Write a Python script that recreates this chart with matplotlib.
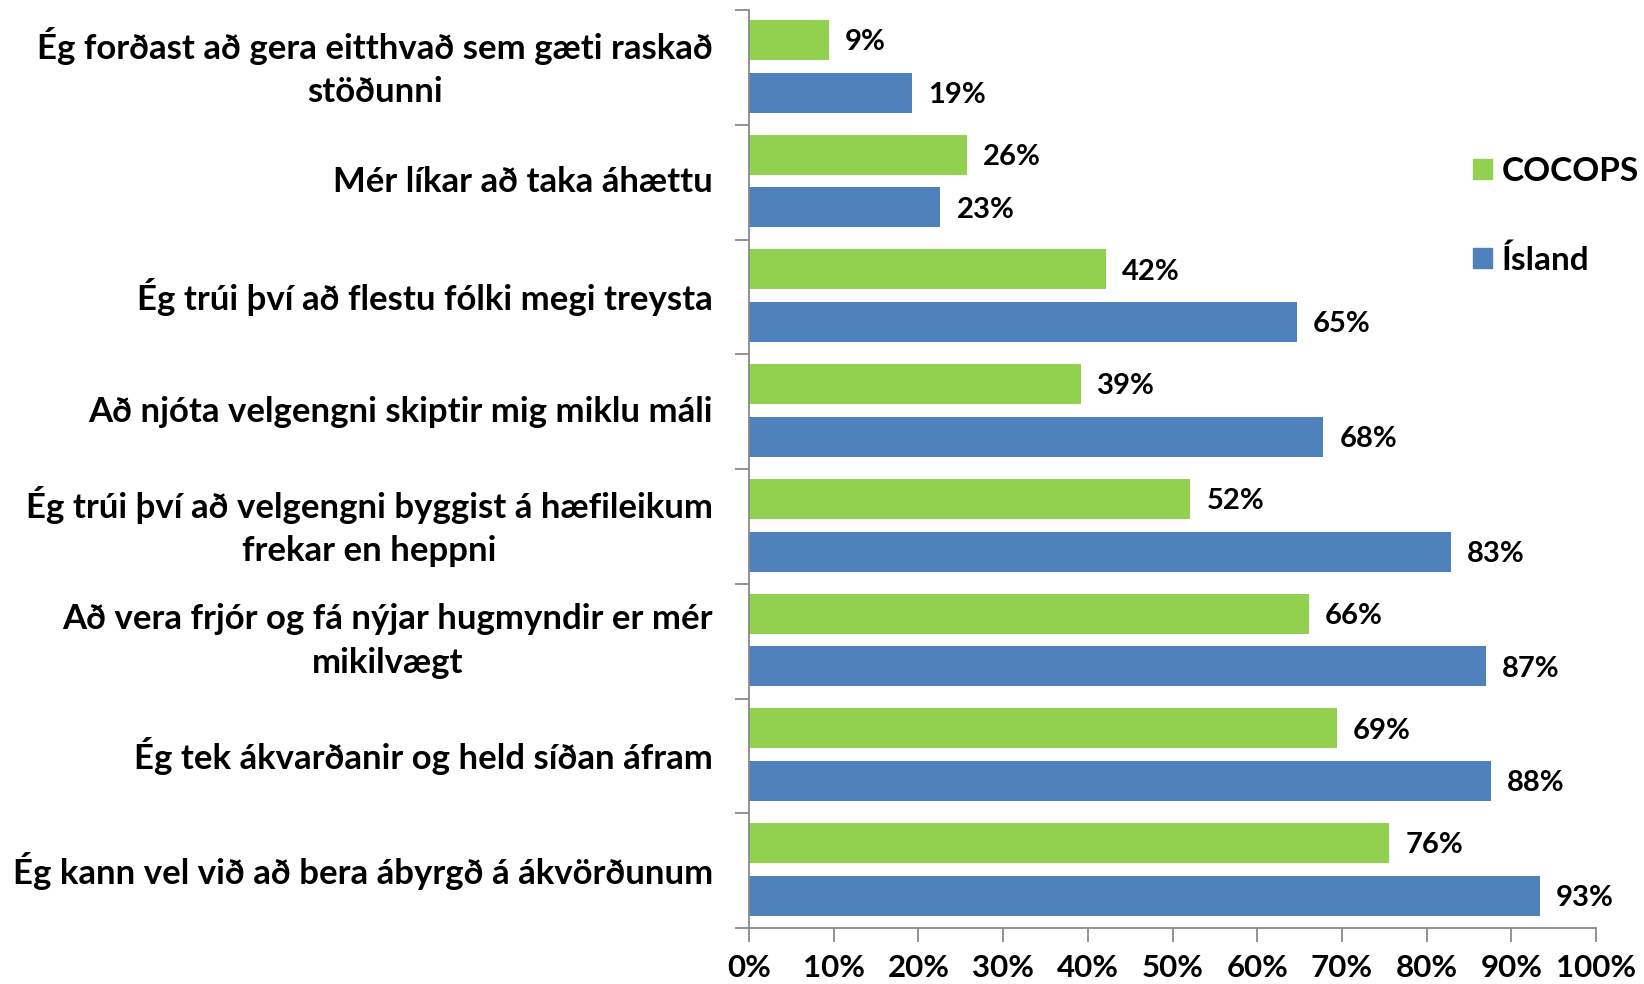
import matplotlib
matplotlib.use("Agg")
import matplotlib.pyplot as plt
from matplotlib.patches import Patch

plt.rcParams['font.family'] = ['Lato', 'DejaVu Sans']
plt.rcParams['font.weight'] = 'bold'

# data (percent)
statements = [
    "Ég forðast að gera eitthvað sem gæti raskað\nstöðunni",
    "Mér líkar að taka áhættu",
    "Ég trúi því að flestu fólki megi treysta",
    "Að njóta velgengni skiptir mig miklu máli",
    "Ég trúi því að velgengni byggist á hæfileikum\nfrekar en heppni",
    "Að vera frjór og fá nýjar hugmyndir er mér\nmikilvægt",
    "Ég tek ákvarðanir og held síðan áfram",
    "Ég kann vel við að bera ábyrgð á ákvörðunum",
]
cocops = [9.4, 25.7, 42.1, 39.2, 52.1, 66.1, 69.4, 75.6]
island = [19.3, 22.6, 64.7, 67.8, 82.9, 87.0, 87.6, 93.4]
series_names = ["COCOPS", "Ísland"]
xticks = [0, 10, 20, 30, 40, 50, 60, 70, 80, 90, 100]

GREEN = "#92D050"
BLUE = "#4F81BD"
GREY = "#898989"

fig = plt.figure(figsize=(16.44, 9.84), dpi=100)
ax = fig.add_axes([749 / 1644, 56 / 984, 847 / 1644, 918 / 984])

pos = list(range(len(statements)))
h = 0.35
g_pos = [p - 0.24 for p in pos]
b_pos = [p + 0.22 for p in pos]
ax.barh(g_pos, cocops, height=h, color=GREEN)
ax.barh(b_pos, island, height=h, color=BLUE)

for y, v in zip(g_pos, cocops):
    ax.text(v + 1.9, y + 0.02, "{:.0f}%".format(v), va='center', ha='left',
            fontsize=21, fontweight='bold')
for y, v in zip(b_pos, island):
    ax.text(v + 1.9, y + 0.02, "{:.0f}%".format(v), va='center', ha='left',
            fontsize=21, fontweight='bold')

ax.set_xlim(0, 100)
ax.set_ylim(len(statements) - 0.5, -0.5)

ax.set_xticks(xticks)
ax.set_xticklabels(["{}%".format(t) for t in xticks], fontsize=22.5,
                   fontweight='bold')
ax.tick_params(axis='x', direction='out', length=10, width=1.3,
               color=GREY, pad=9)

ax.set_yticks(pos)
ax.set_yticklabels(statements, fontsize=25, fontweight='bold',
                   multialignment='center', linespacing=1.45,
                   va='center')
ax.tick_params(axis='y', which='major', length=0, pad=26)
ax.set_yticks([p - 0.5 for p in pos] + [len(pos) - 0.5], minor=True)
ax.tick_params(axis='y', which='minor', direction='out', length=10,
               width=1.3, color=GREY)

for s in ['top', 'right']:
    ax.spines[s].set_visible(False)
for s in ['left', 'bottom']:
    ax.spines[s].set_color(GREY)
    ax.spines[s].set_linewidth(1.3)

handles = [Patch(color=GREEN), Patch(color=BLUE)]
fig.legend(handles, series_names, loc='upper left',
           bbox_to_anchor=(1473 / 1644, 1 - 157 / 984), frameon=False,
           handlelength=0.57, handleheight=0.57, borderpad=0,
           borderaxespad=0, handletextpad=0.3, labelspacing=1.75,
           prop={'weight': 'bold', 'size': 24})

fig.savefig("out.png", dpi=100)
